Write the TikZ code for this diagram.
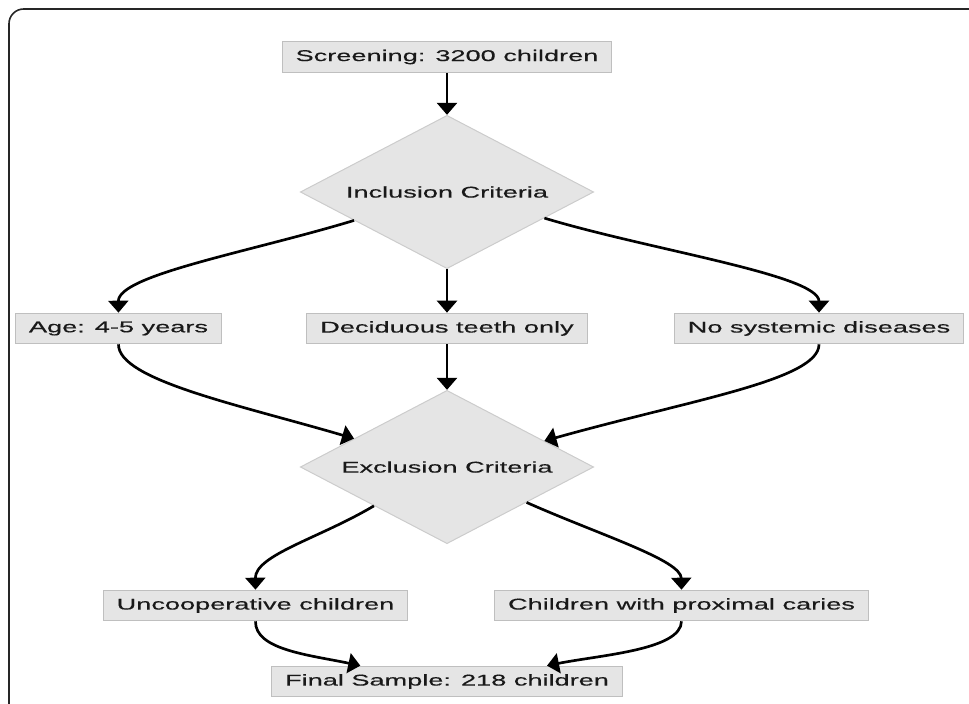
\documentclass[tikz,border=0pt]{standalone}
\usepackage{fontspec}
\setmainfont{Liberation Sans}[FakeStretch=1.74, FakeBold=0.35]
\usetikzlibrary{shapes.geometric,arrows.meta}

\begin{document}
\begin{tikzpicture}[x=0.75pt, y=-0.75pt,
                box/.style={rectangle, draw=black!25, fill=black!10, line width=0.75pt, minimum height=23pt, inner xsep=10pt, inner ysep=0pt, text=black!90, font=\fontsize{11.7}{13}\selectfont},
                crit/.style={diamond, aspect=1.92, draw=black!20, fill=black!10, line width=0.75pt, minimum width=220pt, minimum height=115pt, inner sep=0pt, text=black!90, font=\fontsize{11.7}{13}\selectfont},
                arr/.style={line width=2pt, -{Triangle[length=9pt, width=15pt]}}]
                \clip (0,0) rectangle (969,703);
                \draw[line width=1.2pt, black!85, rounded corners=11pt] (9,9) rectangle (1000,740);
                \node[box] (scr) at (447,57) {Screening: 3200 children};
                \node[crit] (incl) at (447,192) {Inclusion Criteria};
                \node[box] (age) at (118.5,328.5) {Age: 4-5 years};
                \node[box] (dec) at (447,328.5) {Deciduous teeth only};
                \node[box] (nosys) at (819,328.5) {No systemic diseases};
                \node[crit] (excl) at (447,467) {Exclusion Criteria};
                \node[box] (unc) at (255.5,605.5) {Uncooperative children};
                \node[box] (prox) at (681.5,605.5) {Children with proximal caries};
                \node[box] (final) at (447,681.5) {Final Sample: 218 children};
                \draw[arr] (scr) -- (incl);
                \draw[arr] (incl.197) .. controls (250,252) and (118,275) .. (age.north);
                \draw[arr] (incl) -- (dec);
                \draw[arr] (incl.345) .. controls (650,250) and (819,275) .. (nosys.north);
                \draw[arr] (age.south) .. controls (118,380) and (240,405) .. (excl.163);
                \draw[arr] (dec) -- (excl);
                \draw[arr] (nosys.south) .. controls (819,380) and (690,400) .. (excl.15);
                \draw[arr] (excl.208) .. controls (320,538) and (255,555) .. (unc.north);
                \draw[arr] (excl.336) .. controls (600,535) and (681,560) .. (prox.north);
                \draw[arr] (unc.south) .. controls (255,650) and (310,655) .. ([xshift=-65pt]final.north);
                \draw[arr] (prox.south) .. controls (681,650) and (600,655) .. ([xshift=75pt]final.north);
            \end{tikzpicture}
\end{document}
